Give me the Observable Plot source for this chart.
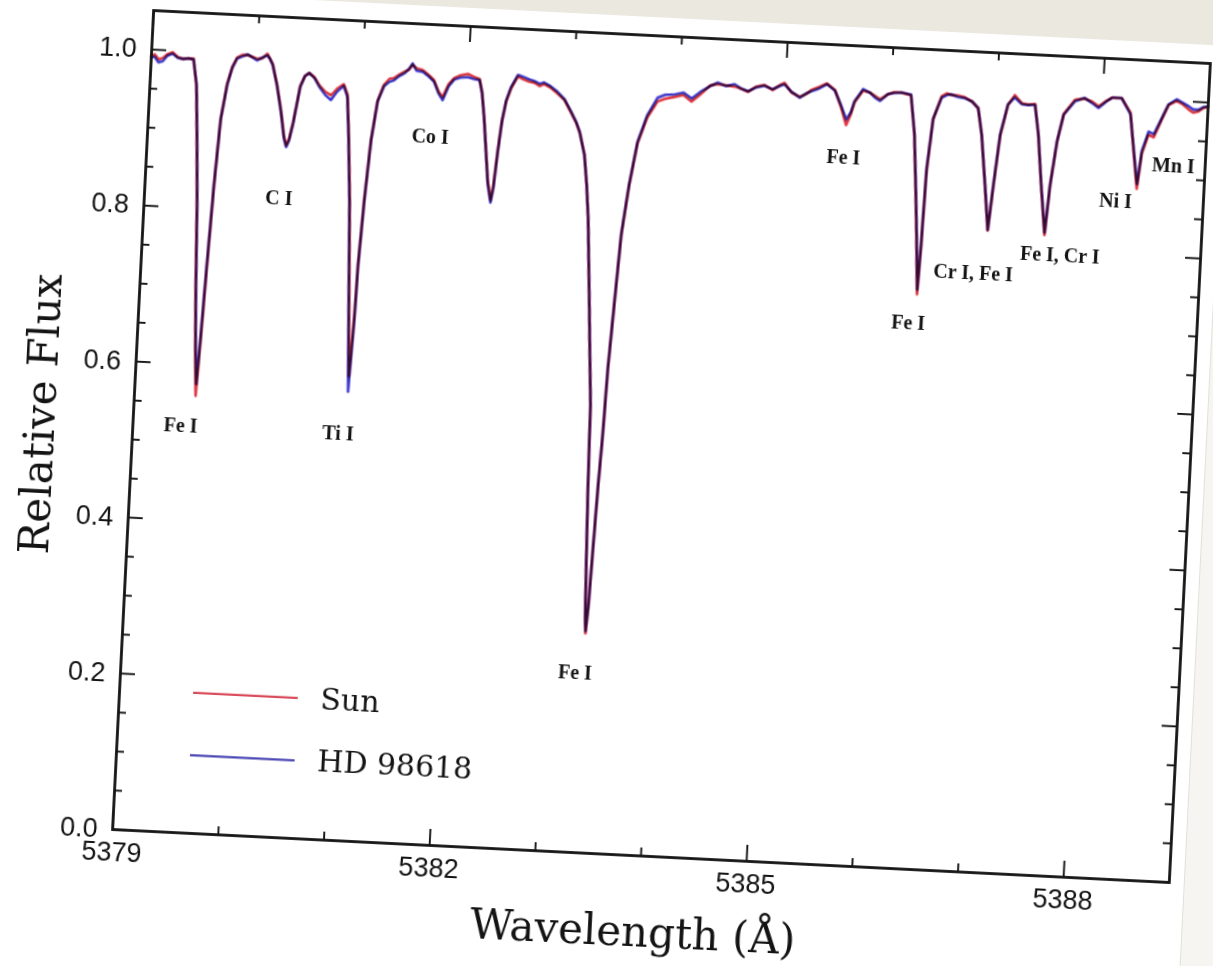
<!DOCTYPE html>
<html>
<head>
<meta charset="utf-8">
<script src="https://cdn.jsdelivr.net/npm/d3@7"></script>
<script src="https://cdn.jsdelivr.net/npm/@observablehq/plot@0.6"></script>
<style>
  html, body { margin: 0; padding: 0; }
  body { width: 1213px; height: 966px; overflow: hidden; background: #ebe9df; position: relative; }
  #wrap { position: absolute; left: 0; top: 0; width: 1213px; height: 966px;
          transform-origin: 661px 446px; transform: rotate(2.87deg); }
  #paper { position: absolute; left: -200px; top: 18px; width: 1405px; height: 1100px; background: #ffffff; }
  #under { position: absolute; left: 1205px; top: 40px; width: 300px; height: 1100px; background: #f6f5f1;
           border-left: 1px solid #e2e0d8; }
  #chart { position: absolute; left: 0; top: 0; }
</style>
</head>
<body>
<div id="wrap"><div id="under"></div><div id="paper"></div><div id="chart"></div></div>
<script>
// Wavelength grid (Å)
const wavelength = [
  5379.00, 5379.03, 5379.07, 5379.11, 5379.15, 5379.20, 5379.25, 5379.30, 5379.35, 5379.40,
  5379.44, 5379.47, 5379.50, 5379.53, 5379.555, 5379.578, 5379.60, 5379.622, 5379.652, 5379.684,
  5379.73, 5379.77, 5379.81, 5379.86, 5379.91, 5379.96, 5380.00, 5380.05, 5380.095, 5380.12,
  5380.15, 5380.20, 5380.25, 5380.29, 5380.315, 5380.34, 5380.37, 5380.42, 5380.46, 5380.50,
  5380.55, 5380.60, 5380.66, 5380.715, 5380.77, 5380.83, 5380.87, 5380.90, 5380.94, 5380.98,
  5381.015, 5381.04, 5381.05, 5381.078, 5381.113, 5381.157, 5381.21, 5381.26, 5381.30, 5381.35,
  5381.40, 5381.44, 5381.47, 5381.51, 5381.57, 5381.63, 5381.68, 5381.73, 5381.77, 5381.82,
  5381.87, 5381.93, 5382.00, 5382.05, 5382.11, 5382.14, 5382.17, 5382.20, 5382.235, 5382.27,
  5382.29, 5382.315, 5382.34, 5382.37, 5382.41, 5382.47, 5382.52, 5382.58, 5382.63, 5382.68,
  5382.72, 5382.78, 5382.85, 5382.92, 5382.99, 5383.04, 5383.08, 5383.135, 5383.17, 5383.20,
  5383.25, 5383.28, 5383.31, 5383.325, 5383.345, 5383.36, 5383.37, 5383.385, 5383.40, 5383.42,
  5383.44, 5383.457, 5383.488, 5383.52, 5383.57, 5383.63, 5383.71, 5383.80, 5383.87, 5383.96,
  5384.04, 5384.12, 5384.21, 5384.29, 5384.36, 5384.44, 5384.52, 5384.58, 5384.65, 5384.72,
  5384.80, 5384.88, 5384.95, 5384.99, 5385.06, 5385.14, 5385.20, 5385.25, 5385.32, 5385.39,
  5385.47, 5385.53, 5385.59, 5385.63, 5385.66, 5385.735, 5385.80, 5385.85, 5385.90, 5385.97,
  5386.03, 5386.10, 5386.19, 5386.24, 5386.28, 5386.31, 5386.34, 5386.355, 5386.372, 5386.41,
  5386.48, 5386.53, 5386.57, 5386.63, 5386.70, 5386.77, 5386.83, 5386.875, 5386.93, 5386.977,
  5387.01, 5387.05, 5387.11, 5387.17, 5387.24, 5387.30, 5387.365, 5387.41, 5387.46, 5387.515,
  5387.545, 5387.59, 5387.64, 5387.74, 5387.83, 5387.90, 5387.965, 5388.03, 5388.09, 5388.18,
  5388.27, 5388.32, 5388.364, 5388.395, 5388.45, 5388.50, 5388.555, 5388.625, 5388.70, 5388.76,
  5388.815, 5388.86, 5388.91, 5388.96, 5389.00
];

// Relative flux, HD 98618 (blue)
const hdFlux = [
  0.990, 0.991, 0.984, 0.986, 0.993, 0.996, 0.991, 0.990, 0.991, 0.990,
  0.958, 0.890, 0.812, 0.700, 0.625, 0.575, 0.645, 0.727, 0.832, 0.915,
  0.960, 0.982, 0.994, 0.997, 1.000, 0.996, 0.993, 0.997, 1.000, 0.996,
  0.988, 0.962, 0.928, 0.895, 0.884, 0.893, 0.915, 0.962, 0.976, 0.980,
  0.974, 0.963, 0.953, 0.947, 0.958, 0.966, 0.952, 0.900, 0.815, 0.685,
  0.575, 0.665, 0.736, 0.820, 0.897, 0.948, 0.968, 0.974, 0.976, 0.982,
  0.986, 0.992, 0.999, 0.990, 0.989, 0.983, 0.977, 0.962, 0.954, 0.972,
  0.981, 0.984, 0.985, 0.983, 0.982, 0.965, 0.934, 0.895, 0.850, 0.826,
  0.845, 0.892, 0.930, 0.957, 0.975, 0.991, 0.989, 0.986, 0.984, 0.981,
  0.983, 0.979, 0.972, 0.963, 0.947, 0.935, 0.922, 0.893, 0.855, 0.812,
  0.706, 0.640, 0.575, 0.470, 0.372, 0.305, 0.284, 0.315, 0.382, 0.470,
  0.537, 0.622, 0.708, 0.794, 0.857, 0.913, 0.948, 0.971, 0.975, 0.976,
  0.979, 0.972, 0.982, 0.989, 0.994, 0.990, 0.993, 0.988, 0.985, 0.990,
  0.993, 0.989, 0.994, 0.996, 0.987, 0.980, 0.986, 0.989, 0.993, 0.999,
  0.991, 0.974, 0.955, 0.965, 0.979, 0.995, 0.991, 0.985, 0.981, 0.990,
  0.992, 0.993, 0.991, 0.942, 0.870, 0.810, 0.742, 0.800, 0.898, 0.962,
  0.989, 0.993, 0.994, 0.991, 0.990, 0.986, 0.978, 0.945, 0.881, 0.823,
  0.882, 0.946, 0.985, 0.994, 0.986, 0.985, 0.986, 0.949, 0.885, 0.823,
  0.885, 0.941, 0.975, 0.993, 0.998, 0.992, 0.986, 0.994, 1.000, 1.000,
  0.980, 0.933, 0.891, 0.934, 0.959, 0.956, 0.973, 0.995, 1.002, 0.998,
  0.994, 0.990, 0.990, 0.994, 0.995
];

// Relative flux, Sun (red)
const sunFlux = [
  0.992, 0.994, 0.988, 0.990, 0.995, 0.998, 0.992, 0.990, 0.991, 0.991,
  0.956, 0.885, 0.805, 0.690, 0.612, 0.560, 0.635, 0.722, 0.830, 0.915,
  0.962, 0.983, 0.995, 0.999, 0.999, 0.997, 0.995, 0.996, 1.002, 0.996,
  0.989, 0.963, 0.930, 0.897, 0.886, 0.895, 0.916, 0.963, 0.976, 0.980,
  0.975, 0.965, 0.957, 0.953, 0.962, 0.968, 0.955, 0.905, 0.822, 0.700,
  0.595, 0.675, 0.740, 0.822, 0.898, 0.949, 0.970, 0.978, 0.979, 0.984,
  0.988, 0.991, 0.997, 0.993, 0.991, 0.985, 0.979, 0.964, 0.958, 0.975,
  0.983, 0.987, 0.989, 0.986, 0.983, 0.966, 0.935, 0.897, 0.853, 0.829,
  0.848, 0.893, 0.931, 0.956, 0.973, 0.989, 0.986, 0.983, 0.982, 0.978,
  0.981, 0.977, 0.970, 0.962, 0.946, 0.934, 0.921, 0.893, 0.855, 0.812,
  0.705, 0.638, 0.574, 0.470, 0.372, 0.305, 0.281, 0.315, 0.382, 0.470,
  0.537, 0.620, 0.706, 0.792, 0.856, 0.911, 0.945, 0.966, 0.970, 0.973,
  0.976, 0.968, 0.979, 0.990, 0.992, 0.991, 0.990, 0.988, 0.984, 0.991,
  0.994, 0.988, 0.995, 0.998, 0.986, 0.981, 0.985, 0.991, 0.995, 1.000,
  0.992, 0.972, 0.948, 0.962, 0.978, 0.993, 0.991, 0.987, 0.983, 0.990,
  0.993, 0.993, 0.990, 0.940, 0.865, 0.805, 0.736, 0.795, 0.895, 0.961,
  0.991, 0.995, 0.993, 0.993, 0.991, 0.986, 0.978, 0.944, 0.880, 0.822,
  0.880, 0.944, 0.984, 0.997, 0.987, 0.986, 0.987, 0.948, 0.884, 0.820,
  0.884, 0.940, 0.976, 0.995, 0.997, 0.994, 0.988, 0.995, 1.000, 1.000,
  0.982, 0.930, 0.885, 0.930, 0.955, 0.952, 0.971, 0.994, 1.000, 0.996,
  0.990, 0.986, 0.988, 0.993, 0.994
];

// Line identifications (label text and where it sits)
const lineLabel = ["Fe I", "C I", "Ti I", "Co I", "Fe I", "Fe I", "Fe I", "Cr I, Fe I", "Fe I, Cr I", "Ni I", "Mn I"];
const labelWavelength = [5379.45, 5380.27, 5380.94, 5381.67, 5383.29, 5385.58, 5386.27, 5386.86, 5387.67, 5388.17, 5388.70];
const labelFlux = [0.521, 0.818, 0.521, 0.907, 0.231, 0.906, 0.699, 0.767, 0.795, 0.868, 0.917];

// Axis ticks
const xMajorTicks = [5379, 5382, 5385, 5388];
const xMinorTicks = [5380, 5381, 5383, 5384, 5386, 5387];
const yMajorTicks = [0.0, 0.2, 0.4, 0.6, 0.8, 1.0];
const yMinorTicks = [0.05, 0.1, 0.15, 0.25, 0.3, 0.35, 0.45, 0.5, 0.55, 0.65, 0.7, 0.75, 0.85, 0.9, 0.95];

// Series / legend
const seriesName = ["Sun", "HD 98618"];
const seriesColor = ["#e0323e", "#3a34cc"];
const legendColor = ["#d84c5c", "#4a46b4"];
const legendFlux = [0.180, 0.100];
const legendLineStart = 5379.70, legendLineEnd = 5380.69, legendTextAt = 5380.90;

const xTitle = "Wavelength (Å)";
const yTitle = "Relative Flux";

const sunData = wavelength.map((w, i) => ({w, f: sunFlux[i]}));
const hdData = wavelength.map((w, i) => ({w, f: hdFlux[i]}));
const labels = lineLabel.map((t, i) => ({t, w: labelWavelength[i], f: labelFlux[i]}));
const legend = seriesName.map((n, i) => ({n, c: legendColor[i], f: legendFlux[i]}));

const W = 1213, H = 966, mL = 132, mR = 23, mT = 36, mB = 110;
const fw = W - mL - mR, fh = H - mT - mB;
const ink = "#141414";
const serif = "DejaVu Serif";

const plot = Plot.plot({
  width: W, height: H,
  marginLeft: mL, marginRight: mR, marginTop: mT, marginBottom: mB,
  x: {domain: [5379, 5389]},
  y: {domain: [0, 1.05]},
  style: {background: "transparent", fontFamily: "Liberation Sans", color: ink, overflow: "visible"},
  marks: [
    // spectra
    Plot.line(sunData, {x: "w", y: "f", stroke: seriesColor[0], strokeWidth: 2.6, mixBlendMode: "multiply"}),
    Plot.line(hdData, {x: "w", y: "f", stroke: seriesColor[1], strokeWidth: 2.6, mixBlendMode: "multiply"}),
    // legend
    Plot.ruleY(legend, {y: "f", x1: legendLineStart, x2: legendLineEnd, stroke: "c", strokeWidth: 2.2}),
    Plot.text(legend, {y: "f", x: legendTextAt, text: "n", textAnchor: "start", fontFamily: serif, fontSize: 30, fill: ink}),
    // line identifications
    Plot.text(labels, {x: "w", y: "f", text: "t", fontFamily: "Liberation Serif", fontWeight: "bold", fontSize: 20, fill: ink}),
    // ticks, inward on all four sides
    Plot.tickX(xMajorTicks, {x: d => d, insetTop: fh - 16, stroke: ink, strokeWidth: 1.9}),
    Plot.tickX(xMajorTicks, {x: d => d, insetBottom: fh - 16, stroke: ink, strokeWidth: 1.9}),
    Plot.tickX(xMinorTicks, {x: d => d, insetTop: fh - 8, stroke: ink, strokeWidth: 1.9}),
    Plot.tickX(xMinorTicks, {x: d => d, insetBottom: fh - 8, stroke: ink, strokeWidth: 1.9}),
    Plot.tickY(yMajorTicks, {y: d => d, insetRight: fw - 15, stroke: ink, strokeWidth: 1.9}),
    Plot.tickY(yMajorTicks, {y: d => d, insetLeft: fw - 15, stroke: ink, strokeWidth: 1.9}),
    Plot.tickY(yMinorTicks, {y: d => d, insetRight: fw - 8, stroke: ink, strokeWidth: 1.9}),
    Plot.tickY(yMinorTicks, {y: d => d, insetLeft: fw - 8, stroke: ink, strokeWidth: 1.9}),
    Plot.frame({stroke: ink, strokeWidth: 2.8}),
    // tick labels
    Plot.axisX({ticks: xMajorTicks, tickSize: 0, tickPadding: 12, tickFormat: d => String(d), fontSize: 27, label: null, fill: ink}),
    Plot.axisY({ticks: yMajorTicks, tickSize: 0, tickPadding: 15, tickFormat: d3.format(".1f"), fontSize: 27, label: null, fill: ink})
  ]
});

// axis titles, placed in the SVG's own pixel space
const svg = d3.select(plot);
svg.append("text")
  .attr("transform", `translate(54,445) rotate(-90)`)
  .attr("text-anchor", "middle")
  .attr("font-family", serif).attr("font-size", 42).attr("fill", ink)
  .text(yTitle);
svg.append("text")
  .attr("x", mL + fw / 2 - 4).attr("y", 947)
  .attr("text-anchor", "middle")
  .attr("font-family", serif).attr("font-size", 42).attr("fill", ink)
  .text(xTitle);

document.getElementById("chart").appendChild(plot);
</script>
</body>
</html>
